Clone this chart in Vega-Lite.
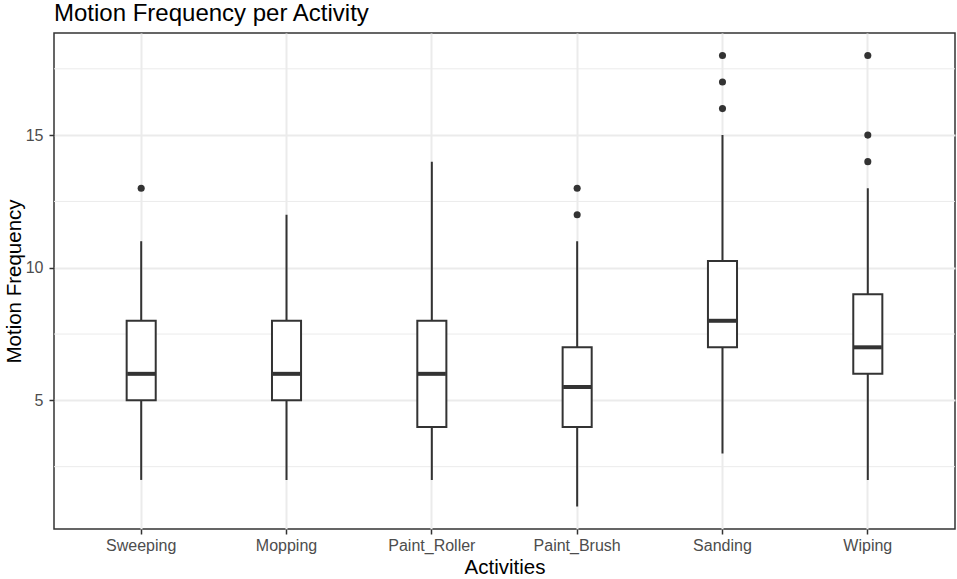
{
  "$schema": "https://vega.github.io/schema/vega-lite/v6.json",
  "width": 901,
  "height": 496,
  "autosize": {"type": "none"},
  "padding": {"left": 54, "top": 33, "right": 2, "bottom": 50},
  "background": "white",
  "title": {
    "text": "Motion Frequency per Activity",
    "anchor": "start",
    "frame": "group",
    "font": "Liberation Sans",
    "fontSize": 24,
    "fontWeight": "normal",
    "color": "black",
    "baseline": "alphabetic",
    "offset": 13,
    "dy": 25
  },
  "config": {
    "view": {"stroke": "#333333", "strokeWidth": 1.5},
    "axis": {
      "domain": false,
      "grid": true,
      "gridColor": "#ebebeb",
      "gridWidth": 2,
      "tickColor": "#333333",
      "tickWidth": 1.5,
      "tickSize": 5,
      "labelFont": "Liberation Sans",
      "labelFontSize": 16,
      "labelColor": "#4d4d4d",
      "titleFont": "Liberation Sans",
      "titleFontSize": 20.5,
      "titleFontWeight": "normal",
      "titleColor": "black"
    }
  },
  "datasets": {
    "boxes": [
      {"activity": "Sweeping", "lower": 2, "q1": 5, "median": 6, "q3": 8, "upper": 11},
      {"activity": "Mopping", "lower": 2, "q1": 5, "median": 6, "q3": 8, "upper": 12},
      {"activity": "Paint_Roller", "lower": 2, "q1": 4, "median": 6, "q3": 8, "upper": 14},
      {"activity": "Paint_Brush", "lower": 1, "q1": 4, "median": 5.5, "q3": 7, "upper": 11},
      {"activity": "Sanding", "lower": 3, "q1": 7, "median": 8, "q3": 10.25, "upper": 15},
      {"activity": "Wiping", "lower": 2, "q1": 6, "median": 7, "q3": 9, "upper": 13}
    ],
    "outliers": [
      {"activity": "Sweeping", "value": 13},
      {"activity": "Paint_Brush", "value": 12},
      {"activity": "Paint_Brush", "value": 13},
      {"activity": "Sanding", "value": 16},
      {"activity": "Sanding", "value": 17},
      {"activity": "Sanding", "value": 18},
      {"activity": "Wiping", "value": 14},
      {"activity": "Wiping", "value": 15},
      {"activity": "Wiping", "value": 18}
    ],
    "minor": [
      {"v": 2.5}, {"v": 7.5}, {"v": 12.5}, {"v": 17.5}
    ]
  },
  "layer": [
    {
      "data": {"name": "minor"},
      "mark": {"type": "rule", "color": "#ebebeb", "strokeWidth": 1},
      "encoding": {
        "y": {
          "field": "v",
          "type": "quantitative",
          "title": "Motion Frequency",
          "scale": {"domain": [0.15, 18.85], "nice": false, "zero": false},
          "axis": {"values": [5, 10, 15], "labelPadding": 6, "titlePadding": 1}
        }
      }
    },
    {
      "data": {"name": "boxes"},
      "mark": {"type": "rule", "color": "#333333", "strokeWidth": 2},
      "encoding": {
        "x": {
          "field": "activity",
          "type": "nominal",
          "title": "Activities",
          "scale": {
            "type": "band",
            "domain": ["Sweeping", "Mopping", "Paint_Roller", "Paint_Brush", "Sanding", "Wiping"],
            "paddingInner": 0,
            "paddingOuter": 0.1
          },
          "axis": {"labelAngle": 0, "bandPosition": 0.5, "labelPadding": 3, "titlePadding": 4}
        },
        "y": {"field": "lower", "type": "quantitative", "title": "Motion Frequency"},
        "y2": {"field": "upper"}
      }
    },
    {
      "data": {"name": "boxes"},
      "mark": {"type": "bar", "fill": "white", "stroke": "#333333", "strokeWidth": 2, "width": {"band": 0.2}},
      "encoding": {
        "x": {"field": "activity", "type": "nominal", "title": "Activities"},
        "y": {"field": "q1", "type": "quantitative", "title": "Motion Frequency"},
        "y2": {"field": "q3"}
      }
    },
    {
      "data": {"name": "boxes"},
      "mark": {"type": "tick", "color": "#333333", "size": 28, "thickness": 4, "opacity": 1},
      "encoding": {
        "x": {"field": "activity", "type": "nominal", "title": "Activities"},
        "y": {"field": "median", "type": "quantitative", "title": "Motion Frequency"}
      }
    },
    {
      "data": {"name": "outliers"},
      "mark": {"type": "circle", "color": "#333333", "size": 50, "opacity": 1},
      "encoding": {
        "x": {"field": "activity", "type": "nominal", "title": "Activities"},
        "y": {"field": "value", "type": "quantitative", "title": "Motion Frequency"}
      }
    }
  ]
}
